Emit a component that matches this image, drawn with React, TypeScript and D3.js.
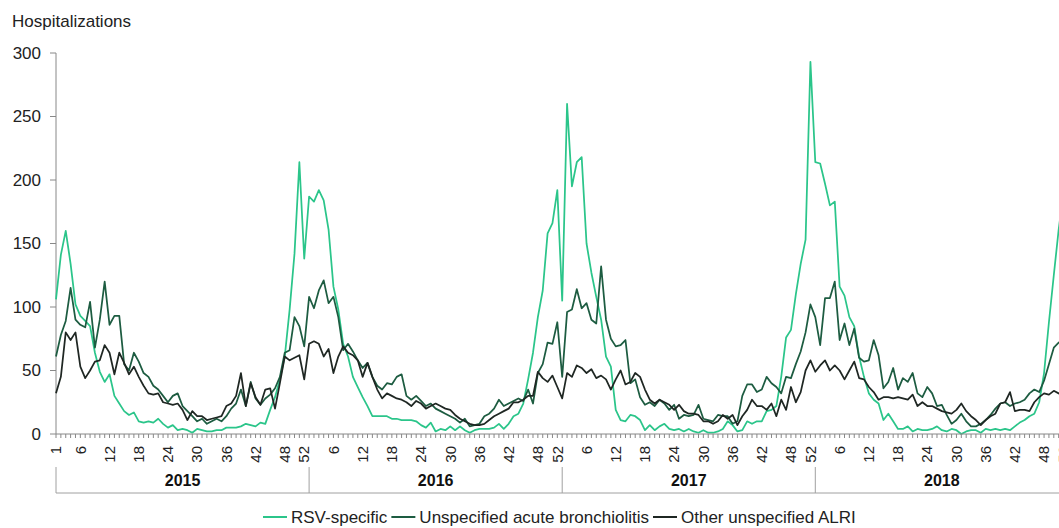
import React from 'react';
import * as d3 from 'd3';

// weekly hospitalizations, 52 weeks per year, 2015-2018
const years = [2015, 2016, 2017, 2018];
const weeksPerYear = 52;
const weekTicks = [1, 6, 12, 18, 24, 30, 36, 42, 48, 52];
const yTicks = [0, 50, 100, 150, 200, 250, 300];

const rsvSpecific = [
  106, 141, 160, 134, 102, 93, 89, 85, 64, 49, 41, 47, 30, 24, 18, 15, 17, 10, 9, 10, 9, 12, 8, 5, 7, 3,
  4, 3, 1, 4, 3, 2, 2, 3, 3, 5, 5, 5, 6, 8, 7, 6, 9, 8, 19, 29, 43, 61, 98, 142, 214, 138,
  187, 183, 192, 184, 161, 116, 98, 71, 61, 45, 37, 29, 22, 14, 14, 14, 14, 12, 12, 11, 11, 11, 10, 7, 5, 9,
  2, 4, 3, 6, 3, 6, 3, 1, 3, 4, 4, 4, 5, 8, 4, 8, 14, 16, 24, 43, 64, 92, 113, 158, 166, 192,
  105, 260, 195, 214, 218, 150, 127, 108, 90, 61, 53, 19, 11, 10, 15, 14, 11, 3, 7, 3, 6, 8, 4, 3, 4, 2,
  4, 2, 1, 3, 1, 1, 2, 4, 10, 7, 2, 3, 10, 8, 10, 10, 18, 19, 22, 45, 76, 82, 110, 134, 153, 293,
  214, 213, 197, 180, 183, 116, 109, 92, 85, 61, 45, 32, 27, 24, 11, 16, 10, 4, 4, 6, 2, 4, 3, 3, 4, 6,
  3, 2, 4, 3, 0, 2, 3, 3, 1, 4, 3, 4, 3, 4, 3, 6, 9, 11, 14, 16, 25, 48, 88, 125, 161, 190,
];

const bronchiolitis = [
  61, 78, 89, 115, 90, 86, 84, 104, 68, 90, 120, 86, 93, 93, 55, 50, 64, 57, 48, 45, 38, 35, 30, 25, 30, 32,
  22, 18, 14, 10, 12, 8, 10, 12, 10, 14, 20, 24, 35, 22, 41, 28, 23, 28, 31, 36, 45, 64, 66, 92, 85, 69,
  108, 99, 113, 121, 103, 108, 92, 66, 71, 65, 58, 52, 56, 45, 38, 35, 40, 39, 45, 47, 30, 27, 30, 26, 22, 24,
  20, 18, 16, 14, 12, 9, 12, 6, 7, 8, 14, 16, 20, 27, 22, 24, 26, 28, 26, 35, 24, 48, 55, 72, 71, 88,
  45, 96, 98, 114, 99, 103, 90, 87, 132, 90, 75, 69, 70, 74, 40, 43, 29, 23, 25, 22, 27, 24, 19, 23, 12, 15,
  14, 15, 23, 12, 11, 10, 15, 14, 14, 8, 10, 30, 39, 39, 33, 35, 45, 40, 37, 32, 45, 44, 55, 65, 80, 102,
  92, 70, 107, 107, 120, 74, 87, 70, 83, 60, 57, 58, 74, 62, 36, 41, 52, 35, 44, 41, 48, 32, 29, 37, 32, 22,
  23, 15, 8, 11, 16, 10, 6, 6, 8, 11, 15, 20, 24, 25, 22, 24, 25, 27, 32, 35, 33, 42, 55, 68, 72, 74,
];

const otherAlri = [
  32, 45, 80, 74, 80, 53, 44, 50, 57, 58, 70, 64, 47, 64, 56, 47, 53, 45, 38, 32, 31, 32, 25, 24, 23, 24,
  19, 11, 18, 14, 14, 11, 12, 13, 14, 22, 24, 30, 48, 22, 40, 29, 23, 35, 36, 20, 40, 61, 58, 60, 62, 43,
  71, 73, 71, 61, 67, 48, 61, 69, 64, 62, 58, 45, 56, 45, 35, 28, 32, 30, 28, 27, 25, 22, 26, 24, 20, 22,
  24, 22, 20, 19, 15, 12, 10, 8, 7, 7, 8, 11, 14, 16, 18, 20, 25, 25, 27, 30, 30, 49, 44, 41, 46, 37,
  28, 48, 45, 54, 52, 48, 51, 44, 46, 43, 35, 43, 50, 39, 41, 48, 45, 35, 27, 24, 27, 25, 23, 19, 23, 18,
  16, 16, 15, 10, 10, 8, 10, 15, 12, 15, 7, 14, 19, 27, 22, 22, 19, 24, 14, 27, 19, 37, 25, 33, 50, 58,
  49, 54, 58, 50, 54, 50, 43, 50, 57, 44, 43, 37, 33, 27, 29, 29, 28, 29, 28, 27, 31, 22, 25, 22, 22, 20,
  18, 17, 16, 19, 24, 18, 14, 11, 7, 11, 14, 16, 24, 25, 33, 18, 19, 19, 18, 25, 29, 32, 31, 34, 32, 30,
];

const seriesNames = ['RSV-specific', 'Unspecified acute bronchiolitis', 'Other unspecified ALRI'];
const seriesColors = ['#2bc58a', '#1d5c41', '#1f2723'];

const width = 1059;
const height = 528;
const font = '"Liberation Sans", Arial, sans-serif';

const measure = (s: string, f: string) => {
  const ctx = document.createElement('canvas').getContext('2d');
  if (!ctx) return s.length * 8;
  ctx.font = f;
  return ctx.measureText(s).width;
};

const App = () => {
  const x = d3.scaleLinear().domain([0, weeksPerYear * 3]).range([56, 815.3]);
  const y = d3.scaleLinear().domain([0, 300]).range([434, 53]);

  const series = [rsvSpecific, bronchiolitis, otherAlri];
  const line = d3.line<number>().x((d, i) => x(i)).y(d => y(d));

  const nWeeks = years.length * weeksPerYear;
  const allWeeks = d3.range(nWeeks);

  const weekLabels: { i: number; label: number }[] = [];
  years.forEach((yr, k) => {
    weekTicks.forEach(w => {
      if (k > 0 && w === 1) return;
      weekLabels.push({ i: k * weeksPerYear + w - 1, label: w });
    });
  });

  // legend layout
  let lx = 263;
  const legend = seriesNames.map((name, k) => {
    const item = { name, color: seriesColors[k], x: lx };
    lx += 28 + measure(name, `17px ${font}`) + 4;
    return item;
  });

  return (
    <svg width={width} height={height} style={{ position: 'absolute', left: 0, top: 0, background: '#fff' }}
      fontFamily={font}>
      <text x={12} y={27} fontSize={17} fill="#222">Hospitalizations</text>

      {/* y axis */}
      <line x1={56} x2={56} y1={y(300)} y2={y(0)} stroke="#888" />
      {yTicks.map(t => (
        <g key={t}>
          <line x1={50} x2={56} y1={y(t)} y2={y(t)} stroke="#888" />
          <text x={41} y={y(t)} dy="0.35em" textAnchor="end" fontSize={17} fill="#222">{t}</text>
        </g>
      ))}

      {/* lines */}
      {series.map((s, k) => (
        <path key={k} d={line(s) || ''} fill="none" stroke={seriesColors[k]} strokeWidth={1.75}
          strokeLinejoin="round" />
      ))}

      {/* x axis */}
      <line x1={56} x2={x(nWeeks)} y1={y(0)} y2={y(0)} stroke="#888" />
      {allWeeks.map(i => (
        <line key={i} x1={x(i)} x2={x(i)} y1={y(0)} y2={y(0) + 4} stroke="#888" />
      ))}
      {weekLabels.map(d => (
        <text key={d.i} transform={`translate(${x(d.i)},446) rotate(-90)`} dy="0.35em" textAnchor="end"
          fontSize={15} fill="#222">{d.label}</text>
      ))}

      {/* year groups */}
      <line x1={56} x2={x(nWeeks)} y1={493} y2={493} stroke="#a0a0a0" />
      {d3.range(years.length + 1).map(k => (
        <line key={k} x1={x(k * weeksPerYear)} x2={x(k * weeksPerYear)} y1={467} y2={493} stroke="#a0a0a0" />
      ))}
      {years.map((yr, k) => (
        <text key={yr} x={(x(k * weeksPerYear) + x((k + 1) * weeksPerYear)) / 2} y={486} textAnchor="middle"
          fontSize={16} fontWeight="bold" fill="#111">{yr}</text>
      ))}

      {/* legend */}
      {legend.map(it => (
        <g key={it.name}>
          <line x1={it.x} x2={it.x + 24} y1={517} y2={517} stroke={it.color} strokeWidth={2} />
          <text x={it.x + 28} y={517} dy="0.35em" fontSize={17} fill="#222">{it.name}</text>
        </g>
      ))}
    </svg>
  );
};

export default App;
